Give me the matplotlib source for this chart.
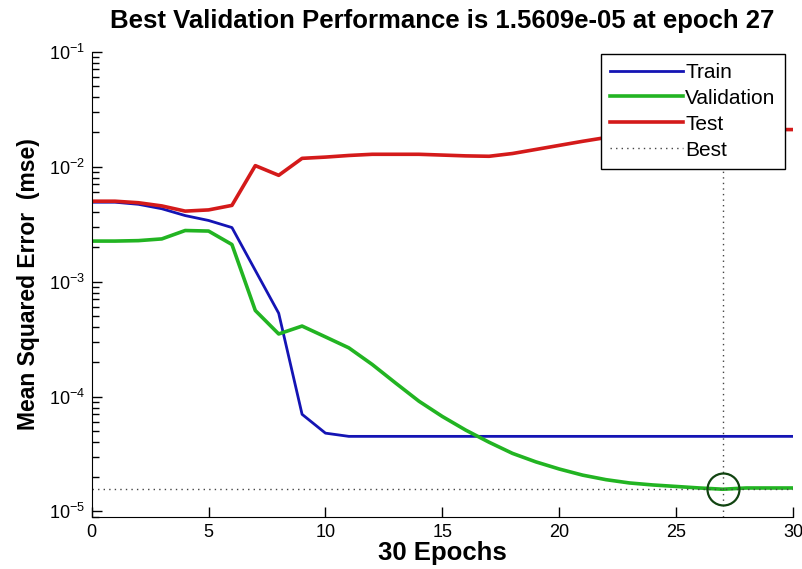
import numpy as np
import matplotlib.pyplot as plt

# Performance curves (mse per epoch)
epochs = list(range(31))
train_mse = [4.9e-3, 4.9e-3, 4.7e-3, 4.3e-3, 3.75e-3, 3.4e-3, 2.95e-3, 1.25e-3, 5.3e-4, 7.0e-5,
             4.8e-5, 4.5e-5, 4.5e-5, 4.5e-5, 4.5e-5, 4.5e-5, 4.5e-5, 4.5e-5, 4.5e-5, 4.5e-5,
             4.5e-5, 4.5e-5, 4.5e-5, 4.5e-5, 4.5e-5, 4.5e-5, 4.5e-5, 4.5e-5, 4.5e-5, 4.5e-5, 4.5e-5]
valid_mse = [2.25e-3, 2.25e-3, 2.27e-3, 2.35e-3, 2.78e-3, 2.75e-3, 2.1e-3, 5.6e-4, 3.5e-4, 4.1e-4,
             3.3e-4, 2.65e-4, 1.9e-4, 1.31e-4, 9.1e-5, 6.7e-5, 5.1e-5, 4.0e-5, 3.2e-5, 2.7e-5,
             2.34e-5, 2.07e-5, 1.89e-5, 1.77e-5, 1.70e-5, 1.65e-5, 1.6e-5, 1.5609e-5, 1.6e-5, 1.6e-5, 1.6e-5]
test_mse = [5.0e-3, 5.0e-3, 4.85e-3, 4.55e-3, 4.1e-3, 4.2e-3, 4.6e-3, 1.02e-2, 8.4e-3, 1.18e-2,
            1.21e-2, 1.25e-2, 1.28e-2, 1.28e-2, 1.28e-2, 1.26e-2, 1.24e-2, 1.23e-2, 1.3e-2, 1.41e-2,
            1.53e-2, 1.66e-2, 1.79e-2, 1.9e-2, 2.0e-2, 2.05e-2, 2.1e-2, 2.1e-2, 2.1e-2, 2.1e-2, 2.1e-2]
best_epoch = 27
best_perf = 1.5609e-05

plt.rcParams['font.family'] = ['Liberation Sans', 'DejaVu Sans']

fig = plt.figure(figsize=(8.02, 5.69), dpi=100)
ax = fig.add_axes([0.1143, 0.0919, 0.8745, 0.8173])

ax.plot(epochs, train_mse, color='#1414b4', lw=2, label='Train')
ax.plot(epochs, valid_mse, color='#22b422', lw=2.6, label='Validation')
ax.plot(epochs, test_mse, color='#d41a1a', lw=2.6, label='Test')
ax.axhline(best_perf, color='#444444', lw=1, ls=(0, (1, 3)), label='Best')
ax.axvline(best_epoch, color='#444444', lw=1, ls=(0, (1, 3)))
ax.plot([best_epoch], [best_perf], 'o', ms=23, mfc='none', mec='#114411', mew=1.6)

ax.set_yscale('log')
ax.set_xlim(0, 30)
ax.set_ylim(9e-6, 1e-1)
ax.set_xticks([0, 5, 10, 15, 20, 25, 30])
ax.spines['top'].set_visible(False)
ax.spines['right'].set_visible(False)
ax.tick_params(direction='in', labelsize=13, length=7, width=1, pad=5)
ax.tick_params(which='minor', direction='in', length=5, width=1)

ax.set_title('Best Validation Performance is 1.5609e-05 at epoch 27',
             fontsize=18.5, fontweight='bold', pad=17, x=0.5)
ax.set_xlabel('30 Epochs', fontsize=18.5, fontweight='bold', labelpad=0)
ax.set_ylabel('Mean Squared Error  (mse)', fontsize=16.5, fontweight='bold', labelpad=6)

leg = ax.legend(loc='upper right', bbox_to_anchor=(0.9886, 0.996), borderaxespad=0,
                fontsize=15, handlelength=3.5, handletextpad=0.1, labelspacing=0.33,
                fancybox=False, framealpha=1, edgecolor='black', borderpad=0.45)
leg.get_frame().set_linewidth(1)

fig.savefig('out.png', dpi=100)
